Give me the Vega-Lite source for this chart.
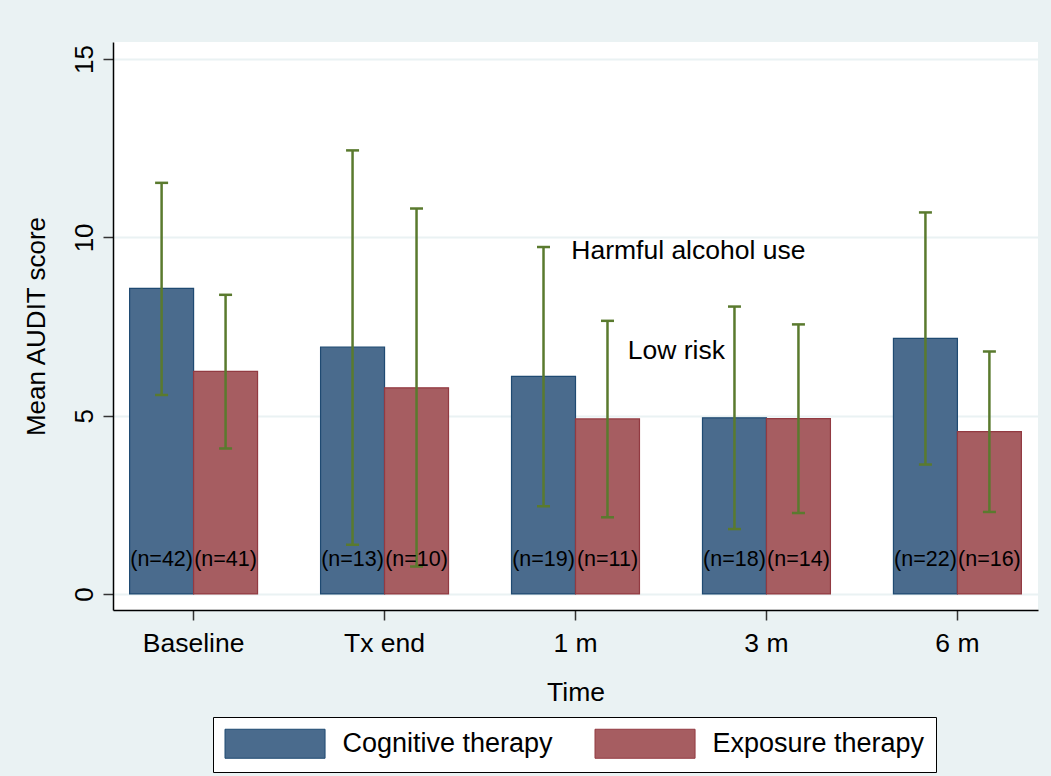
{
  "$schema": "https://vega.github.io/schema/vega-lite/v6.json",
  "width": 925,
  "height": 568,
  "autosize": {"type": "none"},
  "padding": {"left": 113, "top": 42, "right": 13, "bottom": 166},
  "background": "#eaf2f3",
  "config": {
    "font": "Liberation Sans",
    "view": {"fill": "white", "stroke": null},
    "axis": {
      "labelFont": "Liberation Sans",
      "titleFont": "Liberation Sans",
      "labelColor": "#000",
      "titleColor": "#000",
      "titleFontWeight": "normal",
      "domainColor": "#000",
      "domainWidth": 1.5,
      "tickColor": "#333",
      "tickWidth": 1.5,
      "tickSize": 10
    }
  },
  "datasets": {
    "scores": [
      {"time": "Baseline", "therapy": "Cognitive therapy", "mean": 8.57, "lo": 5.58, "hi": 11.53, "label": "(n=42)"},
      {"time": "Baseline", "therapy": "Exposure therapy", "mean": 6.24, "lo": 4.08, "hi": 8.39, "label": "(n=41)"},
      {"time": "Tx end", "therapy": "Cognitive therapy", "mean": 6.92, "lo": 1.38, "hi": 12.44, "label": "(n=13)"},
      {"time": "Tx end", "therapy": "Exposure therapy", "mean": 5.78, "lo": 0.77, "hi": 10.81, "label": "(n=10)"},
      {"time": "1 m", "therapy": "Cognitive therapy", "mean": 6.10, "lo": 2.46, "hi": 9.73, "label": "(n=19)"},
      {"time": "1 m", "therapy": "Exposure therapy", "mean": 4.91, "lo": 2.15, "hi": 7.66, "label": "(n=11)"},
      {"time": "3 m", "therapy": "Cognitive therapy", "mean": 4.94, "lo": 1.82, "hi": 8.06, "label": "(n=18)"},
      {"time": "3 m", "therapy": "Exposure therapy", "mean": 4.92, "lo": 2.27, "hi": 7.56, "label": "(n=14)"},
      {"time": "6 m", "therapy": "Cognitive therapy", "mean": 7.17, "lo": 3.63, "hi": 10.70, "label": "(n=22)"},
      {"time": "6 m", "therapy": "Exposure therapy", "mean": 4.55, "lo": 2.30, "hi": 6.80, "label": "(n=16)"}
    ],
    "zones": [
      {"note": "Harmful alcohol use", "pos": 62.2, "score": 9.4},
      {"note": "Low risk", "pos": 60.9, "score": 6.59}
    ]
  },
  "encoding": {
    "y": {
      "type": "quantitative",
      "scale": {"domain": [-0.45, 15.48], "nice": false, "zero": false},
      "axis": {
        "title": "Mean AUDIT score",
        "titleFontSize": 26,
        "titleBaseline": "alphabetic",
        "titlePadding": 27,
        "values": [0, 5, 10, 15],
        "labelFontSize": 26,
        "labelAngle": -90,
        "labelAlign": "center",
        "labelBaseline": "alphabetic",
        "labelPadding": 11,
        "grid": true,
        "gridColor": "#eaf2f3",
        "gridWidth": 2
      }
    }
  },
  "layer": [
    {
      "mark": {"type": "rule", "color": "#c50f3c", "strokeWidth": 3},
      "encoding": {"y": {"datum": 8}}
    },
    {
      "data": {"name": "scores"},
      "encoding": {
        "x": {
          "field": "time",
          "type": "nominal",
          "sort": ["Baseline", "Tx end", "1 m", "3 m", "6 m"],
          "scale": {"paddingInner": 0.33, "paddingOuter": 0.087},
          "axis": {
            "title": "Time",
            "titleFontSize": 26.5,
            "titleBaseline": "alphabetic",
            "titlePadding": 44,
            "labelFontSize": 26.5,
            "labelAngle": 0,
            "labelBaseline": "alphabetic",
            "labelPadding": 31
          }
        },
        "xOffset": {
          "field": "therapy",
          "type": "nominal",
          "sort": ["Cognitive therapy", "Exposure therapy"],
          "scale": {"paddingInner": 0, "paddingOuter": 0}
        }
      },
      "layer": [
        {
          "mark": {"type": "bar", "strokeWidth": 1.2, "opacity": 1},
          "encoding": {
            "y": {"field": "mean", "type": "quantitative"},
            "color": {
              "field": "therapy",
              "type": "nominal",
              "scale": {"domain": ["Cognitive therapy", "Exposure therapy"], "range": ["#4a6b8d", "#a65d61"]},
              "legend": {
                "title": null,
                "orient": "none",
                "legendX": 100,
                "legendY": 675,
                "direction": "horizontal",
                "symbolType": "M-1,-1H5.9V1H-1Z",
                "symbolSize": 841,
                "symbolOpacity": 1,
                "symbolStrokeWidth": 1,
                "labelFontSize": 27,
                "labelColor": "#000",
                "labelLimit": 400,
                "labelOffset": 88,
                "columnPadding": 39,
                "padding": 11.5,
                "strokeColor": "#000",
                "fillColor": "#fff"
              }
            },
            "stroke": {
              "field": "therapy",
              "type": "nominal",
              "scale": {"domain": ["Cognitive therapy", "Exposure therapy"], "range": ["#1f4a72", "#923a41"]},
              "legend": null
            }
          }
        },
        {
          "mark": {"type": "rule", "color": "#5a7a2e", "strokeWidth": 2.5},
          "encoding": {
            "y": {"field": "lo", "type": "quantitative"},
            "y2": {"field": "hi"}
          }
        },
        {
          "mark": {"type": "tick", "color": "#5a7a2e", "size": 13, "thickness": 2.5, "opacity": 1},
          "encoding": {"y": {"field": "hi", "type": "quantitative"}}
        },
        {
          "mark": {"type": "tick", "color": "#5a7a2e", "size": 13, "thickness": 2.5, "opacity": 1},
          "encoding": {"y": {"field": "lo", "type": "quantitative"}}
        },
        {
          "mark": {"type": "text", "fontSize": 21.5, "baseline": "middle", "align": "center", "color": "#000"},
          "encoding": {
            "y": {"datum": 0.96},
            "text": {"field": "label"}
          }
        }
      ]
    },
    {
      "data": {"name": "zones"},
      "mark": {"type": "text", "fontSize": 26.5, "baseline": "alphabetic", "align": "center", "color": "#000"},
      "encoding": {
        "x": {"field": "pos", "type": "quantitative", "scale": {"domain": [0, 100], "nice": false, "zero": false}, "axis": null},
        "y": {"field": "score", "type": "quantitative"},
        "text": {"field": "note"}
      }
    }
  ],
  "resolve": {"scale": {"x": "independent"}}
}
